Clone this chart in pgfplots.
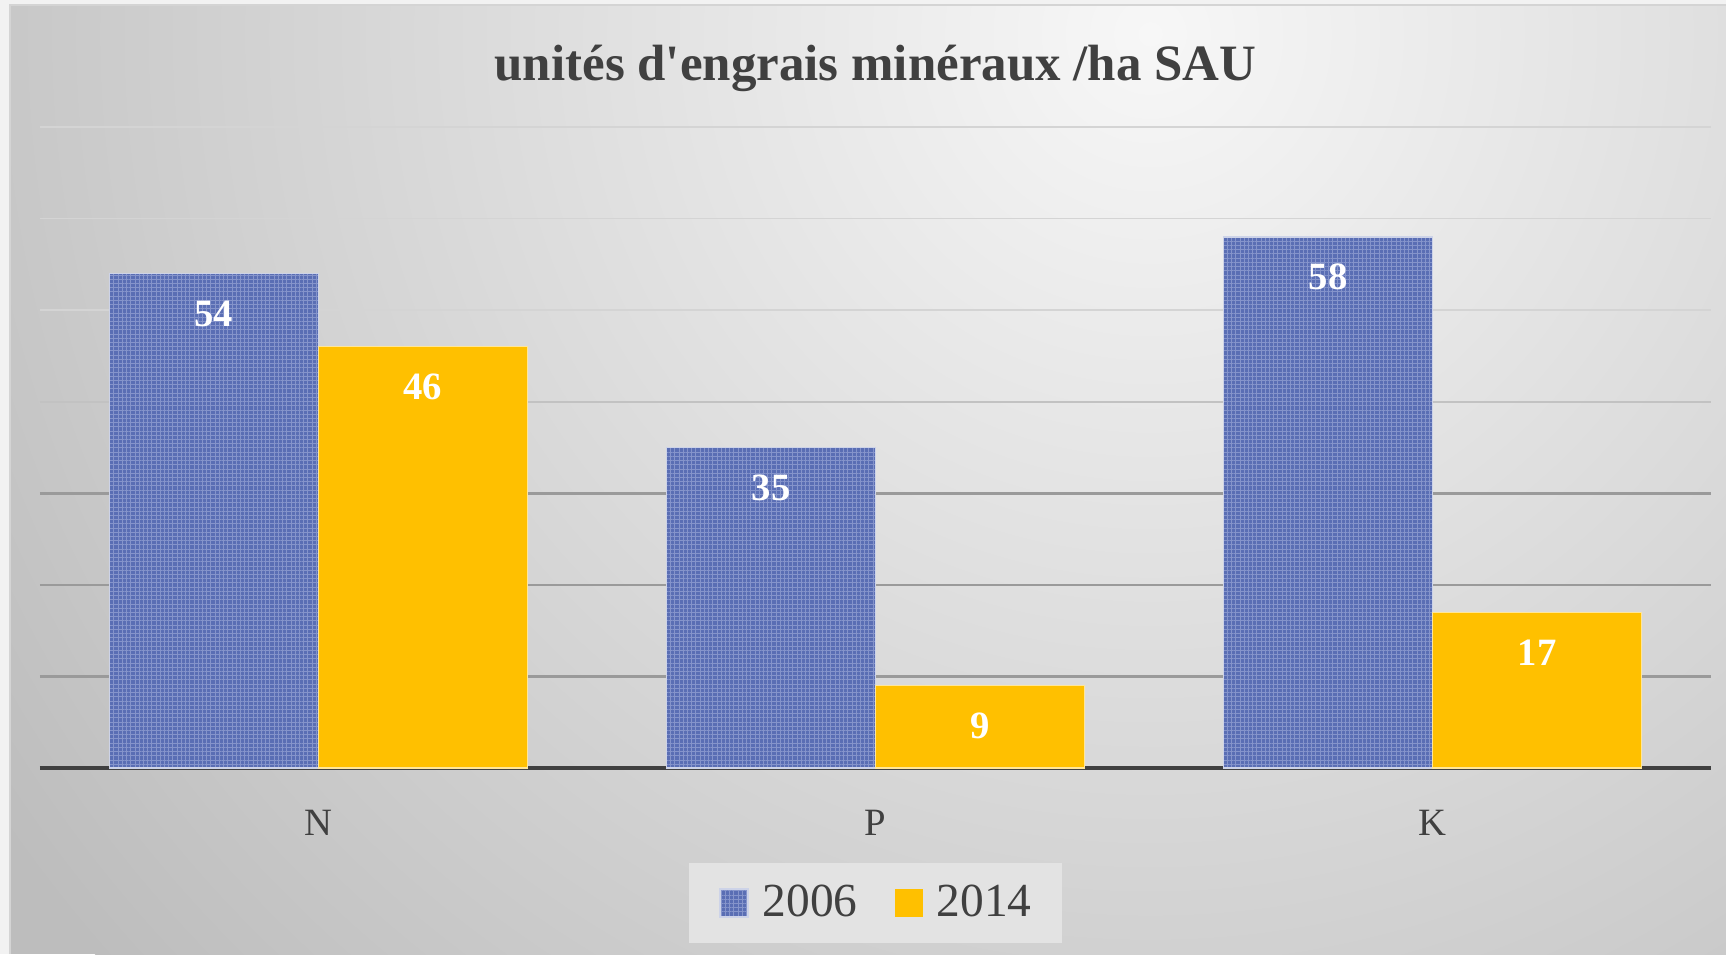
\documentclass[border=0pt]{standalone}
\usepackage{fontspec}
\setmainfont{Liberation Serif}
\usepackage{pgfplots}
\pgfplotsset{compat=1.18}
\usetikzlibrary{patterns.meta}
\definecolor{barblue}{HTML}{5A6EB4}
\definecolor{barbluegrid}{HTML}{8594CB}
\definecolor{baryellow}{HTML}{FFC000}
\definecolor{txtgray}{HTML}{404040}
\definecolor{bgouter}{HTML}{BDBDBD}
\definecolor{bginner}{HTML}{F7F7F7}
\definecolor{pagebg}{HTML}{F2F2F2}
\definecolor{gridA}{HTML}{9A9A9A}
\definecolor{gridB}{HTML}{C2C2C2}
\definecolor{gridC}{HTML}{D4D4D4}
\definecolor{legbg}{HTML}{E3E3E3}

\begin{document}
\begin{tikzpicture}
\useasboundingbox (0,0) rectangle (172.6mm,95.4mm);
\fill[pagebg] (0,0) rectangle (172.6mm,95.4mm);
\begin{scope}
  \clip (1mm,0) rectangle (172.6mm,94.9mm);
  \fill[bgouter] (1mm,0) rectangle (172.6mm,94.9mm);
  \shade[inner color=bginner, outer color=bgouter] (115mm,92mm) circle (140mm);
\end{scope}
\draw[gridC, line width=0.4pt] (1mm,0) -- (1mm,94.9mm) -- (172.6mm,94.9mm);

\begin{axis}[
  at={(4mm,18.6mm)}, anchor=south west,
  scale only axis, width=167.1mm, height=64.1mm,
  xmin=-0.5, xmax=2.5, ymin=0, ymax=70,
  ybar=0pt, bar width=20.9mm,
  axis x line*=bottom, axis y line*=left,
  x axis line style={draw=txtgray, line width=1.2pt, -},
  y axis line style={draw=none},
  xtick={0,1,2}, xticklabels={N,P,K},
  xtick style={draw=none}, ytick style={draw=none},
  major tick length=0pt, minor tick length=0pt,
  xticklabel style={font=\fontsize{11}{12}\selectfont, text=txtgray, anchor=center, yshift=-5.5mm},
  ytick={10,20,30}, yticklabels={},
  extra y ticks={40}, extra y tick labels={},
  extra y tick style={major grid style={gridB, line width=0.5pt}},
  minor ytick={50,60,70},
  ymajorgrids, yminorgrids,
  major grid style={gridA, line width=0.7pt},
  minor grid style={gridC, line width=0.5pt},
  title={unités d\textquotesingle engrais minéraux /ha SAU},
  title style={at={(0.5,1)}, anchor=base, yshift=2.5mm,
    font=\bfseries\fontsize{14.5}{16}\selectfont, text=txtgray},
  /pgf/number format/assume math mode=true,
  nodes near coords,
  every node near coord/.append style={font=\bfseries\fontsize{11}{12}\selectfont,
    text=white, anchor=center, yshift=-4mm},
  legend style={at={(0.5,-0.2106)}, anchor=center, legend columns=2,
    draw=none, fill=legbg, font=\fontsize{13.5}{15}\selectfont, text=txtgray,
    inner xsep=3mm, inner ysep=1.6mm,
    nodes={inner xsep=0pt, inner ysep=0.6mm},
    /tikz/every odd column/.append style={column sep=1.4mm},
    /tikz/every even column/.append style={column sep=3.7mm}},
  legend image code/.code={\draw[#1, draw=none] (0mm,-1.4mm) rectangle (2.8mm,1.4mm);},
]
\addplot[fill=barblue, draw=white!70!barblue, line width=0.4pt,
  postaction={pattern={Hatch[angle=0,distance=1.2pt,line width=0.25pt]}, pattern color=barbluegrid}]
  coordinates {(0,54) (1,35) (2,58)};
\addplot[fill=baryellow, draw=white!60!baryellow, line width=0.4pt]
  coordinates {(0,46) (1,9) (2,17)};
\legend{2006,2014}
\end{axis}
\end{tikzpicture}
\end{document}
